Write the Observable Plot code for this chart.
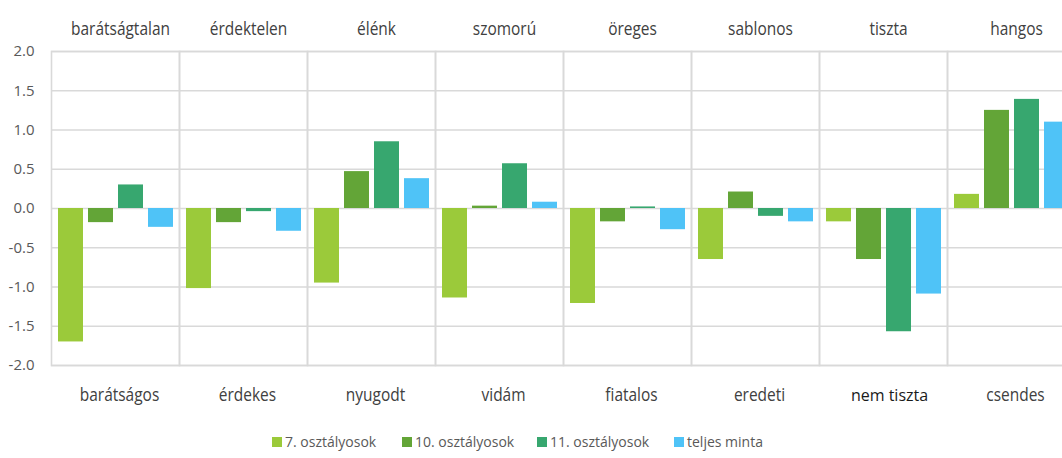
<!DOCTYPE html>
<html>
<head>
<meta charset="utf-8">
<script src="https://cdn.jsdelivr.net/npm/d3@7"></script>
<script src="https://cdn.jsdelivr.net/npm/@observablehq/plot@0.6"></script>
<style>
  html, body { margin: 0; padding: 0; background: #fff; }
  #wrap { width: 1062px; height: 458px; overflow: hidden; position: relative; }
  #legend { position: absolute; left: 0; top: 432px; height: 20px; font-family: "Open Sans", "Noto Sans", sans-serif; font-size: 14px; color: #595959; }
  .li { position: absolute; top: 0; white-space: nowrap; line-height: 20px; }
  .sw { display: inline-block; width: 10px; height: 10px; margin-right: 3px; }
</style>
</head>
<body>
<div id="wrap">
  <div id="chart"></div>
  <div id="legend"></div>
</div>
<script>
// Top (left pole) and bottom (right pole) labels of each adjective pair
const topLabels = ["barátságtalan", "érdektelen", "élénk", "szomorú", "öreges", "sablonos", "tiszta", "hangos"];
const bottomLabels = ["barátságos", "érdekes", "nyugodt", "vidám", "fiatalos", "eredeti", "nem tiszta", "csendes"];
const seriesNames = ["7. osztályosok", "10. osztályosok", "11. osztályosok", "teljes minta"];
const seriesColors = ["#9BCA3A", "#63A537", "#37A76F", "#4FC3F7"];

const grade7  = [-1.70, -1.02, -0.95, -1.14, -1.21, -0.65, -0.17, 0.18];
const grade10 = [-0.18, -0.18,  0.47,  0.03, -0.17,  0.21, -0.65, 1.25];
const grade11 = [ 0.30, -0.04,  0.85,  0.57,  0.02, -0.10, -1.57, 1.39];
const total   = [-0.24, -0.29,  0.38,  0.08, -0.27, -0.17, -1.09, 1.10];

const yTicks = [-2, -1.5, -1, -0.5, 0, 0.5, 1, 1.5, 2];

const seriesValues = [grade7, grade10, grade11, total];
const data = [];
topLabels.forEach((g, i) => {
  seriesNames.forEach((s, j) => {
    data.push({group: g, series: s, value: seriesValues[j][i]});
  });
});
const labelRows = topLabels.map((g, i) => ({group: g, top: g, bottom: bottomLabels[i], strong: bottomLabels[i] === "nem tiszta"}));

const sansFont = "'Open Sans', 'Noto Sans', sans-serif";

const chart = Plot.plot({
  width: 1075,
  height: 425,
  marginLeft: 51,
  marginRight: 0,
  marginTop: 51,
  marginBottom: 60,
  style: {maxWidth: "none", background: "#fff", overflow: "visible"},
  fx: {domain: topLabels, padding: 0, axis: null, label: null},
  x: {domain: seriesNames, paddingInner: 0.18, paddingOuter: 0.22, axis: null, label: null},
  y: {domain: [-2, 2], axis: null, label: null},
  color: {domain: seriesNames, range: seriesColors},
  marks: [
    Plot.gridY(yTicks, {stroke: "#d9d9d9", strokeOpacity: 1, strokeWidth: 1.6}),
    Plot.frame({stroke: "#d9d9d9", strokeWidth: 1.6}),
    Plot.barY(data, {fx: "group", x: "series", y: "value", fill: "series"}),
    Plot.axisY(yTicks, {tickSize: 0, tickPadding: 17, tickFormat: d => d.toFixed(1), fontSize: 15, fill: "#595959", fontFamily: sansFont, anchor: "left", label: null}),
    Plot.text(labelRows, {fx: "group", text: "top", frameAnchor: "top", dy: -29, dx: 5, fontSize: 18, fill: "#404040", fontFamily: sansFont}),
    Plot.text(labelRows.filter(d => !d.strong), {fx: "group", text: "bottom", frameAnchor: "bottom", dy: 35, dx: 4, fontSize: 18, fill: "#404040", fontFamily: sansFont}),
    Plot.text(labelRows.filter(d => d.strong), {fx: "group", text: "bottom", frameAnchor: "bottom", dy: 35, dx: 6, fontSize: 16, fill: "#1a1a1a", fontFamily: sansFont})
  ]
});
document.getElementById("chart").appendChild(chart);

// Narrow (condensed) look of the pole labels: the first two text marks
const textGroups = chart.querySelectorAll("g[aria-label='text']");
[textGroups[0], textGroups[1]].forEach(g => {
  if (!g) return;
  g.querySelectorAll("text").forEach(el => {
    const b = el.getBBox();
    const cx = b.x + b.width / 2;
    const t = el.getAttribute("transform") || "";
    el.setAttribute("transform", `${t} translate(${cx},0) scale(0.86,1) translate(${-cx},0)`);
  });
});

const legendX = [272, 402, 537, 674];
const legend = document.getElementById("legend");
seriesNames.forEach((s, i) => {
  const item = document.createElement("div");
  item.className = "li";
  item.style.left = legendX[i] + "px";
  const sw = document.createElement("span");
  sw.className = "sw";
  sw.style.background = seriesColors[i];
  item.appendChild(sw);
  item.appendChild(document.createTextNode(s));
  legend.appendChild(item);
});
</script>
</body>
</html>
